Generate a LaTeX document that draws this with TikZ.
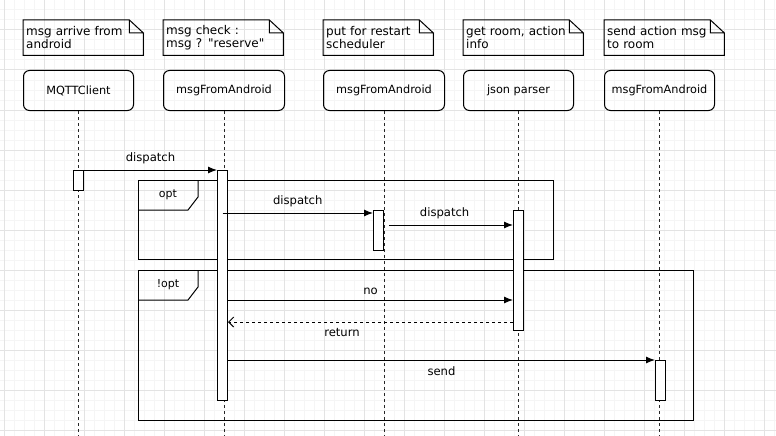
\documentclass[tikz,border=0pt]{standalone}
\usepackage{fontspec}
\setmainfont{DejaVu Sans}[Ligatures=TeXOff]
\usepackage{tikz}
\usetikzlibrary{arrows.meta}
\tikzset{>={Latex[length=9pt,width=7pt]}}
\usepackage{xcolor}
\colorlet{gridminor}{black!4}
\colorlet{gridmajor}{black!11}
\tikzstyle{note}=[anchor=north west,text width=114,minimum height=35,inner sep=3,align=left,font=\fontsize{12}{13.5}\selectfont]
\tikzstyle{head}=[draw,line width=1pt,rounded corners=6,anchor=north west,minimum width=110,minimum height=40,inner sep=0,font=\fontsize{11.3}{13}\selectfont]
\tikzstyle{act}=[draw,line width=1pt,fill=white,anchor=north west,minimum width=10,inner sep=0]
\tikzstyle{lifeline}=[line width=1pt,black!85,dash pattern=on 3pt off 3pt]
\tikzstyle{msg}=[->,line width=1pt]
\tikzstyle{frame}=[draw,line width=1pt,anchor=north west,inner sep=0]

\begin{document}
\begin{tikzpicture}[x=1pt,y=-1pt,font=\fontsize{11.6}{13}\selectfont]
				\useasboundingbox (0,0) rectangle (776,436);
				\foreach \gx in {4,14,...,774} \draw[gridminor,line width=1pt] (\gx,0) -- (\gx,436);
				\foreach \gy in {0,10,...,430} \draw[gridminor,line width=1pt] (0,\gy) -- (776,\gy);
				\foreach \gx in {4,44,...,764} \draw[gridmajor,line width=1pt] (\gx,0) -- (\gx,436);
				\foreach \gy in {30,70,...,430} \draw[gridmajor,line width=1pt] (0,\gy) -- (776,\gy);
				
				\node[note] at (23,20)   (n1) {msg arrive from\\android};
				\node[note] at (163,20)  (n2) {msg check :\\msg ? "reserve"};
				\node[note,text width=104] at (323,20)  (n3) {put for restart\\scheduler};
				\node[note] at (463,20)  (n4) {get room, action\\info};
				\node[note] at (604,20)  (n5) {send action msg\\to room};
				\foreach \n in {n1,n2,n3,n4,n5}
					\draw[line width=1pt] (\n.north west) -- ([xshift=-14]\n.north east) -- ([yshift=-13]\n.north east) -- (\n.south east) -- (\n.south west) -- cycle
						([xshift=-14]\n.north east) -- ([xshift=-14,yshift=-13]\n.north east) -- ([yshift=-13]\n.north east);
				
				\node[head] at (23,70)   (b1) {MQTTClient};
				\node[head,minimum width=121] at (163,70)  (b2) {msgFromAndroid};
				\node[head,minimum width=121] at (323,70)  (b3) {msgFromAndroid};
				\node[head] at (463,70)  (b4) {json parser};
				\node[head] at (604,70)  (b5) {msgFromAndroid};
				
				\coordinate (bottom) at (0,436);
				\foreach \b in {b1,b2,b3,b4,b5}
					\draw[lifeline] (\b.south) -- (\b.south |- bottom);
				
				\node[frame,minimum width=415,minimum height=79] at (138,180) (opt) {};
				\draw[line width=1pt] ([xshift=60]opt.north west) -- ++(0,17) -- ++(-10,13) -- ++(-50,0);
				\node at ([xshift=30,yshift=-15]opt.north west) (optlbl) {\fontsize{11}{12}\selectfont opt};
				
				\node[frame,minimum width=555,minimum height=150] at (138,270) (nopt) {};
				\draw[line width=1pt] ([xshift=60]nopt.north west) -- ++(0,17) -- ++(-10,13) -- ++(-50,0);
				\node at ([xshift=30,yshift=-15]nopt.north west) (noptlbl) {\fontsize{11}{12}\selectfont !opt};
				
				\node[act,minimum height=20]  at (73,170)  (a1) {};
				\node[act,minimum height=230] at (217,170) (a2) {};
				\node[act,minimum height=40]  at (373,210) (a3) {};
				\node[act,minimum height=120] at (513,210) (a4) {};
				\node[act,minimum height=40]  at (655,360) (a5) {};
				
				\draw[msg] (a1.north east) -- (a2.north west) node[midway,above=2] (m1) {dispatch};
				
				\coordinate (c2) at ([yshift=-3]a3.north west);
				\draw[msg] (a2.north |- c2) -- (c2) node[midway,above=2] (m2) {dispatch};
				
				\coordinate (c3) at ([yshift=-15]a4.north west);
				\draw[msg,shorten <=5pt] (a3.east |- c3) -- (c3) node[pos=0.47,above=2] (m3) {dispatch};
				
				\coordinate (c4) at ([yshift=-90]a4.north west);
				\draw[msg] (a2.east |- c4) -- (c4) node[midway,above=2] (m4) {no};
				
				\coordinate (c5) at ([yshift=-112]a4.north west);
				\draw[line width=1pt,dash pattern=on 3pt off 3pt,-{Straight Barb[length=5pt,width=10pt]}] (c5) -- (a2.east |- c5) node[pos=0.6,below=3] (m5) {return};
				
				\draw[msg] (a2.east |- a5.north west) -- (a5.north west) node[midway,below=3] (m6) {send};
			\end{tikzpicture}
\end{document}
